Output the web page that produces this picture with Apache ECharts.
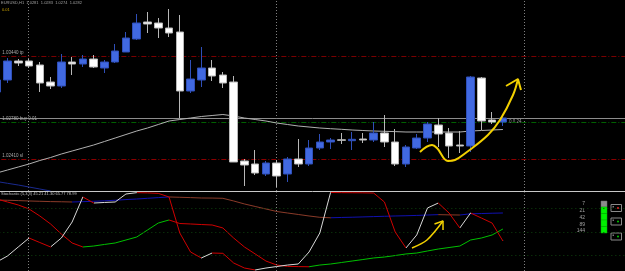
<!DOCTYPE html>
<html><head><meta charset="utf-8">
<script src="https://cdn.jsdelivr.net/npm/echarts@6/dist/echarts.min.js"></script>
<style>html,body{margin:0;padding:0;background:#000;overflow:hidden}#c{width:625px;height:271px;}</style>
</head><body><div id="c"></div>
<script>
// bar slots (hourly bars), hidden labels
const categories = ['0','1','2','3','4','5','6','7','8','9','10','11','12','13','14','15','16','17','18','19','20','21','22','23','24','25','26','27','28','29','30','31','32','33','34','35','36','37','38','39','40','41','42','43','44','45','46','47','48','49','50','51','52','53','54','55','56','57','58'];
// [open, close, low, high]
const candles = [
[1.0308,1.0320,1.0305,1.0322],[1.0320,1.0339,1.0317,1.0342],[1.0339,1.0337,1.0334,1.0341],[1.0339,1.0334,1.0332,1.0341],
[1.0335,1.0317,1.0308,1.0338],[1.0318,1.0314,1.0311,1.0323],[1.0314,1.0338,1.0312,1.0346],[1.0338,1.0336,1.0325,1.0343],
[1.0336,1.0341,1.0333,1.0345],[1.0341,1.0333,1.0332,1.0345],[1.0332,1.0338,1.0327,1.0340],[1.0338,1.0349,1.0337,1.0356],
[1.0348,1.0362,1.0348,1.0368],[1.0361,1.0377,1.0360,1.0386],[1.0378,1.0376,1.0367,1.0388],[1.0377,1.0372,1.0362,1.0382],
[1.0372,1.0367,1.0363,1.0391],[1.0368,1.0309,1.0282,1.0385],[1.0309,1.0321,1.0307,1.0340],[1.0320,1.0332,1.0313,1.0353],
[1.0332,1.0324,1.0319,1.0340],[1.0325,1.0317,1.0312,1.0328],[1.0318,1.0238,1.0238,1.0324],[1.0239,1.0235,1.0214,1.0241],
[1.0236,1.0227,1.0225,1.0250],[1.0226,1.0237,1.0224,1.0239],[1.0237,1.0224,1.0213,1.0240],[1.0226,1.0241,1.0218,1.0243],
[1.0241,1.0236,1.0233,1.0261],[1.0236,1.0252,1.0234,1.0260],[1.0252,1.0258,1.0250,1.0266],[1.0258,1.0260,1.0251,1.0262],
[1.02602,1.02597,1.0256,1.0267],[1.02593,1.02607,1.0250,1.0268],[1.0261,1.0260,1.0257,1.0267],[1.0260,1.0267,1.0258,1.0278],
[1.0267,1.0258,1.0253,1.0285],[1.0258,1.0236,1.0234,1.0271],[1.0236,1.0253,1.0233,1.0255],[1.0252,1.0262,1.0251,1.0266],
[1.0262,1.0276,1.0258,1.0278],[1.0275,1.0266,1.0253,1.0282],[1.0267,1.0254,1.0242,1.0272],[1.0255,1.0254,1.0247,1.0269],
[1.0254,1.0323,1.0248,1.0324],[1.0322,1.0279,1.0270,1.0323],[1.0280,1.0278,1.0276,1.0288],[1.0278,1.0282,1.0274,1.0283]
];
const maSlow = [1.0227,1.0230,1.0233,1.0236,1.02395,1.02425,1.0246,1.0249,1.0252,1.0255,1.02585,1.0262,1.02655,1.0269,1.0272,1.02755,1.0279,1.02805,1.0282,1.02835,1.02845,1.02855,1.0284,1.0282,1.02805,1.0279,1.0277,1.02755,1.0274,1.0273,1.0272,1.02713,1.02707,1.0270,1.02695,1.0269,1.02687,1.02684,1.0268,1.0268,1.0268,1.0268,1.0268,1.0268,1.0269,1.02695,1.0270,1.02705];
const maLong = [1.02185,1.02167,1.0215,1.0213,1.0211,1.0209];
const tpLevel = 1.0344, buyLevel = 1.0278, slLevel = 1.0241, openLine = 1.0282;
const tpText = '1.03440 tp', buyText = '1.02780 buy 0.01', slText = '1.02410 sl';
const daySeparators = [2.9, 25.93, 48.96];
const stochLevels = [80, 50, 20];
const stochFast = [11.5,19.1,30.6,42.0,36.3,30.6,42.0,62.4,94.3,86.6,87.3,87.9,98.1,99.8,99.5,98.9,94.3,48.4,24.2,16.6,22.9,22.5,10.2,3.8,1.3,3.8,5.7,7.6,8.9,24.2,48.4,100,99.8,99.7,99.6,99.3,87.9,49.7,29.3,45.9,80.3,86.6,73.9,54.8,73.9,67.5,61.1,38.2];
const stochMid = [91.7,87.9,84.1,79.0,70.1,59.9,47.1,35.7,30.6,31.8,33.8,35.7,39.5,43.3,52.2,61.1,65.0,60.5,59.9,59.2,58.6,54.8,42.0,30.6,21.7,12.7,7.6,5.9,5.6,5.4,7.6,8.9,10.8,12.7,14.6,16.6,17.8,19.7,21.7,22.9,25.5,28.0,29.9,31.8,39.5,42.0,45.9,53.5];
const stochSlow = [90.4,90.1,89.7,89.2,88.8,88.4,88.2,87.9,88.3,88.8,89.4,90.1,91.0,91.7,92.6,93.5,94.3,93.9,93.5,93.0,92.9,92.6,89.2,85.4,82.2,79.0,75.8,73.9,72.0,70.1,68.4,67.8,68.2,68.5,68.9,69.3,69.7,70.1,70.4,70.8,71.3,71.8,71.5,71.3,72.9,73.2,73.6,73.9];
// hand-drawn annotations (bar position, value)
const arrowTop = [[39.30,1.0248],[40.42,1.0255],[40.88,1.0252],[41.90,1.0239],[42.55,1.0240],[43.66,1.0248],[45.61,1.0265],[46.73,1.0280],[47.94,1.0305],[48.40,1.0321]];
const arrowTopHead = [[47.29,1.0314],[48.40,1.0321],[48.68,1.0310]];
const arrowBottom = [[38.56,29.3],[39.95,39.5],[41.44,63.7]];
const arrowBottomHead = [[40.65,59.9],[41.44,63.7],[41.44,52.2]];
const periodLabels = ['7','21','42','89','144'];
const headerText = 'EURUSD,H1  1.0281  1.0283  1.0274  1.0282';
const subText = '0.01';
const stochTitle = 'Stochastic (5,3,3) 45.21 41.30 65.77 78.99';
const lastPriceText = '0.0.24';

const L = -8.66, W = 635.4;
const idx = arr => arr.map((v, i) => [i, v]);
function dirPieces(vals, up, down) {
  const p = [];
  for (let i = 0; i < vals.length - 1; i++) {
    const piece = { gte: i, color: vals[i + 1] >= vals[i] ? up : down };
    if (i < vals.length - 2) piece.lt = i + 1; else piece.lte = i + 1;
    p.push(piece);
  }
  return p;
}
const hLabel = { show: true, position: 'insideStartTop', color: '#a8a8a8', fontSize: 4.5, fontFamily: 'Liberation Sans', padding: [0, 0, 0, 10], distance: 1 };
const sep = { color: '#808080', type: [1, 2], width: 1 };
const dashDot = c => ({ color: c, type: [5, 2, 1, 2], width: 1 });

const chart = echarts.init(document.getElementById('c'), null, { renderer: 'canvas' });
const font = s => s + 'px "Liberation Sans", sans-serif';
const graphics = [
  { type: 'text', left: 1, top: 1, style: { text: headerText, fill: '#a0a0a0', font: font(4) } },
  { type: 'text', left: 2, top: 8, style: { text: subText, fill: '#c8a000', font: font(4) } },
  { type: 'text', left: 1, top: 192, z: 20, style: { text: stochTitle, fill: '#c0c0c0', font: font(4) } },
  { type: 'text', left: 509, top: 119.5, style: { text: lastPriceText, fill: '#9a9a9a', font: font(4.5) } }
];
const numY = [204, 211, 218, 224.5, 231];
periodLabels.forEach((t, i) => graphics.push({ type: 'text', x: 585, y: numY[i], style: { text: t, fill: '#a0a0a0', font: font(5), align: 'right', verticalAlign: 'middle' } }));
graphics.push({ type: 'rect', shape: { x: 601, y: 201, width: 6, height: 6 }, style: { fill: '#8c8c8c', stroke: '#6a6a6a', lineWidth: 0.5 } });
[207, 213.5, 220, 226.5].forEach(y => graphics.push({ type: 'rect', shape: { x: 601, y: y, width: 6, height: 6.5 }, style: { fill: '#00f000', stroke: '#00b000', lineWidth: 0.5 } }));
[[204.5, '#ff2a2a'], [218, '#00e000'], [233, '#00e000']].forEach(([y, c]) => {
  graphics.push({ type: 'rect', shape: { x: 611, y: y, width: 10.5, height: 7 }, style: { fill: 'none', stroke: '#8a8a8a', lineWidth: 1 } });
  graphics.push({ type: 'circle', shape: { cx: 618, cy: y + 3.5, r: 0.9 }, style: { fill: c } });
  graphics.push({ type: 'rect', shape: { x: 612.5, y: y + 1.5, width: 1.5, height: 1.5 }, style: { fill: '#777' } });
});

chart.setOption({
  backgroundColor: '#000',
  animation: false,
  grid: [
    { left: L, width: W, top: 0, height: 191, outerBoundsMode: 'none', containLabel: false },
    { left: L, width: W, top: 192.5, height: 78.5, outerBoundsMode: 'none', containLabel: false }
  ],
  xAxis: [
    { type: 'category', gridIndex: 0, data: categories, boundaryGap: true,
      axisLine: { show: true, lineStyle: { color: '#c8c8c8', width: 1 } }, axisTick: { show: false }, axisLabel: { show: false }, splitLine: { show: false } },
    { type: 'value', gridIndex: 0, min: -0.5, max: 58.5, show: false },
    { type: 'value', gridIndex: 1, min: -0.5, max: 58.5, show: false }
  ],
  yAxis: [
    { type: 'value', gridIndex: 0, min: 1.0209, max: 1.04, show: false },
    { type: 'value', gridIndex: 1, min: 0, max: 100, show: false }
  ],
  visualMap: [
    { type: 'piecewise', show: false, seriesIndex: 5, dimension: 0, pieces: dirPieces(stochSlow, '#1010b0', '#8a3a28'), outOfRange: { color: '#1010b0' } },
    { type: 'piecewise', show: false, seriesIndex: 6, dimension: 0, pieces: dirPieces(stochMid, '#00c000', '#d00000'), outOfRange: { color: '#00c000' } },
    { type: 'piecewise', show: false, seriesIndex: 7, dimension: 0, pieces: dirPieces(stochFast, '#d8d8d8', '#d00000'), outOfRange: { color: '#d8d8d8' } }
  ],
  graphic: graphics,
  series: [
    { type: 'candlestick', xAxisIndex: 0, yAxisIndex: 0, data: candles, barWidth: 8, z: 5,
      itemStyle: { color: '#4169e1', color0: '#ffffff', borderColor: '#2f4fb8', borderColor0: '#b8b8b8', borderWidth: 1 } },
    { type: 'line', xAxisIndex: 1, yAxisIndex: 0, data: idx(maSlow), showSymbol: false, z: 3,
      lineStyle: { color: '#b0b0b0', width: 1 },
      markLine: { silent: true, symbol: 'none', z: 1, precision: 6,
        data: [
          { yAxis: openLine, lineStyle: { color: '#8c8c8c', type: 'solid', width: 1 }, label: { show: false } },
          { yAxis: tpLevel, lineStyle: dashDot('#7a0000'), label: Object.assign({ formatter: tpText }, hLabel) },
          { yAxis: buyLevel, lineStyle: dashDot('#006000'), label: Object.assign({ formatter: buyText }, hLabel) },
          { yAxis: slLevel, lineStyle: dashDot('#8a0000'), label: Object.assign({ formatter: slText }, hLabel) }
        ].concat(daySeparators.map(x => ({ xAxis: x, lineStyle: sep, label: { show: false } }))) } },
    { type: 'line', xAxisIndex: 1, yAxisIndex: 0, data: idx(maLong), showSymbol: false, z: 3, lineStyle: { color: '#1a2a90', width: 1 } },
    { type: 'line', xAxisIndex: 1, yAxisIndex: 0, data: arrowTop, smooth: 0.4, showSymbol: false, z: 10, lineStyle: { color: '#f2d000', width: 2 } },
    { type: 'line', xAxisIndex: 1, yAxisIndex: 0, data: arrowTopHead, showSymbol: false, z: 10, lineStyle: { color: '#f2d000', width: 2 } },
    { type: 'line', xAxisIndex: 2, yAxisIndex: 1, data: idx(stochSlow), showSymbol: false, z: 3, lineStyle: { width: 1 },
      markLine: { silent: true, symbol: 'none', label: { show: false }, precision: 4,
        data: stochLevels.map(v => ({ yAxis: v, lineStyle: { color: '#0e420e', type: [1, 3], width: 1 } }))
          .concat(daySeparators.map(x => ({ xAxis: x, lineStyle: sep }))) } },
    { type: 'line', xAxisIndex: 2, yAxisIndex: 1, data: idx(stochMid), showSymbol: false, z: 4, lineStyle: { width: 1 } },
    { type: 'line', xAxisIndex: 2, yAxisIndex: 1, data: idx(stochFast), showSymbol: false, z: 5, lineStyle: { width: 1 } },
    { type: 'line', xAxisIndex: 2, yAxisIndex: 1, data: arrowBottom, smooth: 0.3, showSymbol: false, z: 10, lineStyle: { color: '#f2d000', width: 1.5 } },
    { type: 'line', xAxisIndex: 2, yAxisIndex: 1, data: arrowBottomHead, showSymbol: false, z: 10, lineStyle: { color: '#f2d000', width: 1.5 } }
  ]
});
</script></body></html>
